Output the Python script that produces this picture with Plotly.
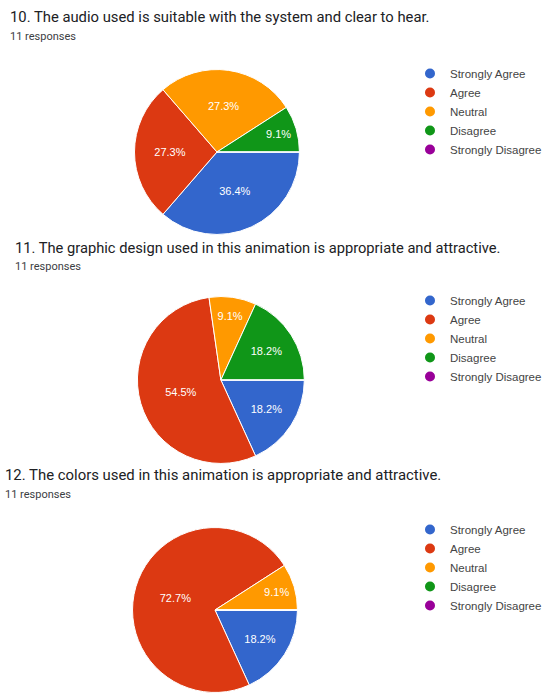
import plotly.graph_objects as go

W, H = 547, 694

# Survey answer categories and Google-Forms style colours
categories = ["Strongly Agree", "Agree", "Neutral", "Disagree", "Strongly Disagree"]
colors = ["#3366cc", "#dc3912", "#ff9900", "#109618", "#990099"]

# Question texts
questions = [
    "10. The audio used is suitable with the system and clear to hear.",
    "11. The graphic design used in this animation is appropriate and attractive.",
    "12. The colors used in this animation is appropriate and attractive.",
]
responses_label = "11 responses"

# Response counts per category (11 respondents each)
q10_counts = [4, 3, 3, 1, 0]
q11_counts = [2, 6, 1, 2, 0]
q12_counts = [2, 8, 1, 0, 0]
all_counts = [q10_counts, q11_counts, q12_counts]

# Layout (pixel positions on the page)
pie_centers = [(221, 152), (225, 380), (219, 610)]
pie_radius = [84, 85, 84]
title_y = [17, 248, 475]
title_x = [8, 13, 3]
title_size = [14.8, 14.7, 14.9]
resp_y = [36, 266, 494]
legend_top = [59, 286, 515]
legend_x = 418

def px_x(x):
    return x / W

def px_y(y):
    return 1 - y / H

fig = go.Figure()

legend_names = ["legend", "legend2", "legend3"]
for i, counts in enumerate(all_counts):
    cx, cy = pie_centers[i]
    r = pie_radius[i]
    fig.add_trace(go.Pie(
        labels=categories,
        values=counts,
        sort=False,
        direction="clockwise",
        rotation=90,
        marker=dict(colors=colors, line=dict(color="white", width=1)),
        texttemplate="%{percent:.1%}",
        textposition="inside",
        insidetextorientation="horizontal",
        textfont=dict(color="white", size=11, family="Arial"),
        showlegend=False,
        hoverinfo="label+value+percent",
        domain=dict(x=[px_x(cx - r), px_x(cx + r)],
                    y=[max(0, px_y(cy + r)), px_y(cy - r)]),
    ))
    # Round legend markers for each chart's categories
    for name, col in zip(categories, colors):
        fig.add_trace(go.Scatter(
            x=[None], y=[None], mode="markers", name=name,
            marker=dict(color=col, size=10, symbol="circle"),
            legend=legend_names[i], showlegend=True,
        ))
    fig.add_annotation(
        text=questions[i], x=px_x(title_x[i]), y=px_y(title_y[i]),
        xref="paper", yref="paper", xanchor="left", yanchor="middle",
        showarrow=False,
        font=dict(family="Roboto", size=title_size[i], color="#202124"),
    )
    fig.add_annotation(
        text=responses_label, x=px_x(title_x[i]), y=px_y(resp_y[i]),
        xref="paper", yref="paper", xanchor="left", yanchor="middle",
        showarrow=False, font=dict(family="Roboto", size=11, color="#3c4043"),
    )

legend_style = dict(
    xanchor="left", yanchor="top", bgcolor="rgba(0,0,0,0)",
    font=dict(family="Arial", size=11.5, color="#444444"),
    itemclick=False, itemdoubleclick=False,
)
fig.update_layout(
    width=W, height=H,
    margin=dict(l=0, r=0, t=0, b=0),
    paper_bgcolor="white", plot_bgcolor="white",
    xaxis=dict(visible=False), yaxis=dict(visible=False),
    legend=dict(x=px_x(legend_x), y=px_y(legend_top[0]), **legend_style),
    legend2=dict(x=px_x(legend_x), y=px_y(legend_top[1]), **legend_style),
    legend3=dict(x=px_x(legend_x), y=px_y(legend_top[2]), **legend_style),
)

fig.write_html("out.html")
